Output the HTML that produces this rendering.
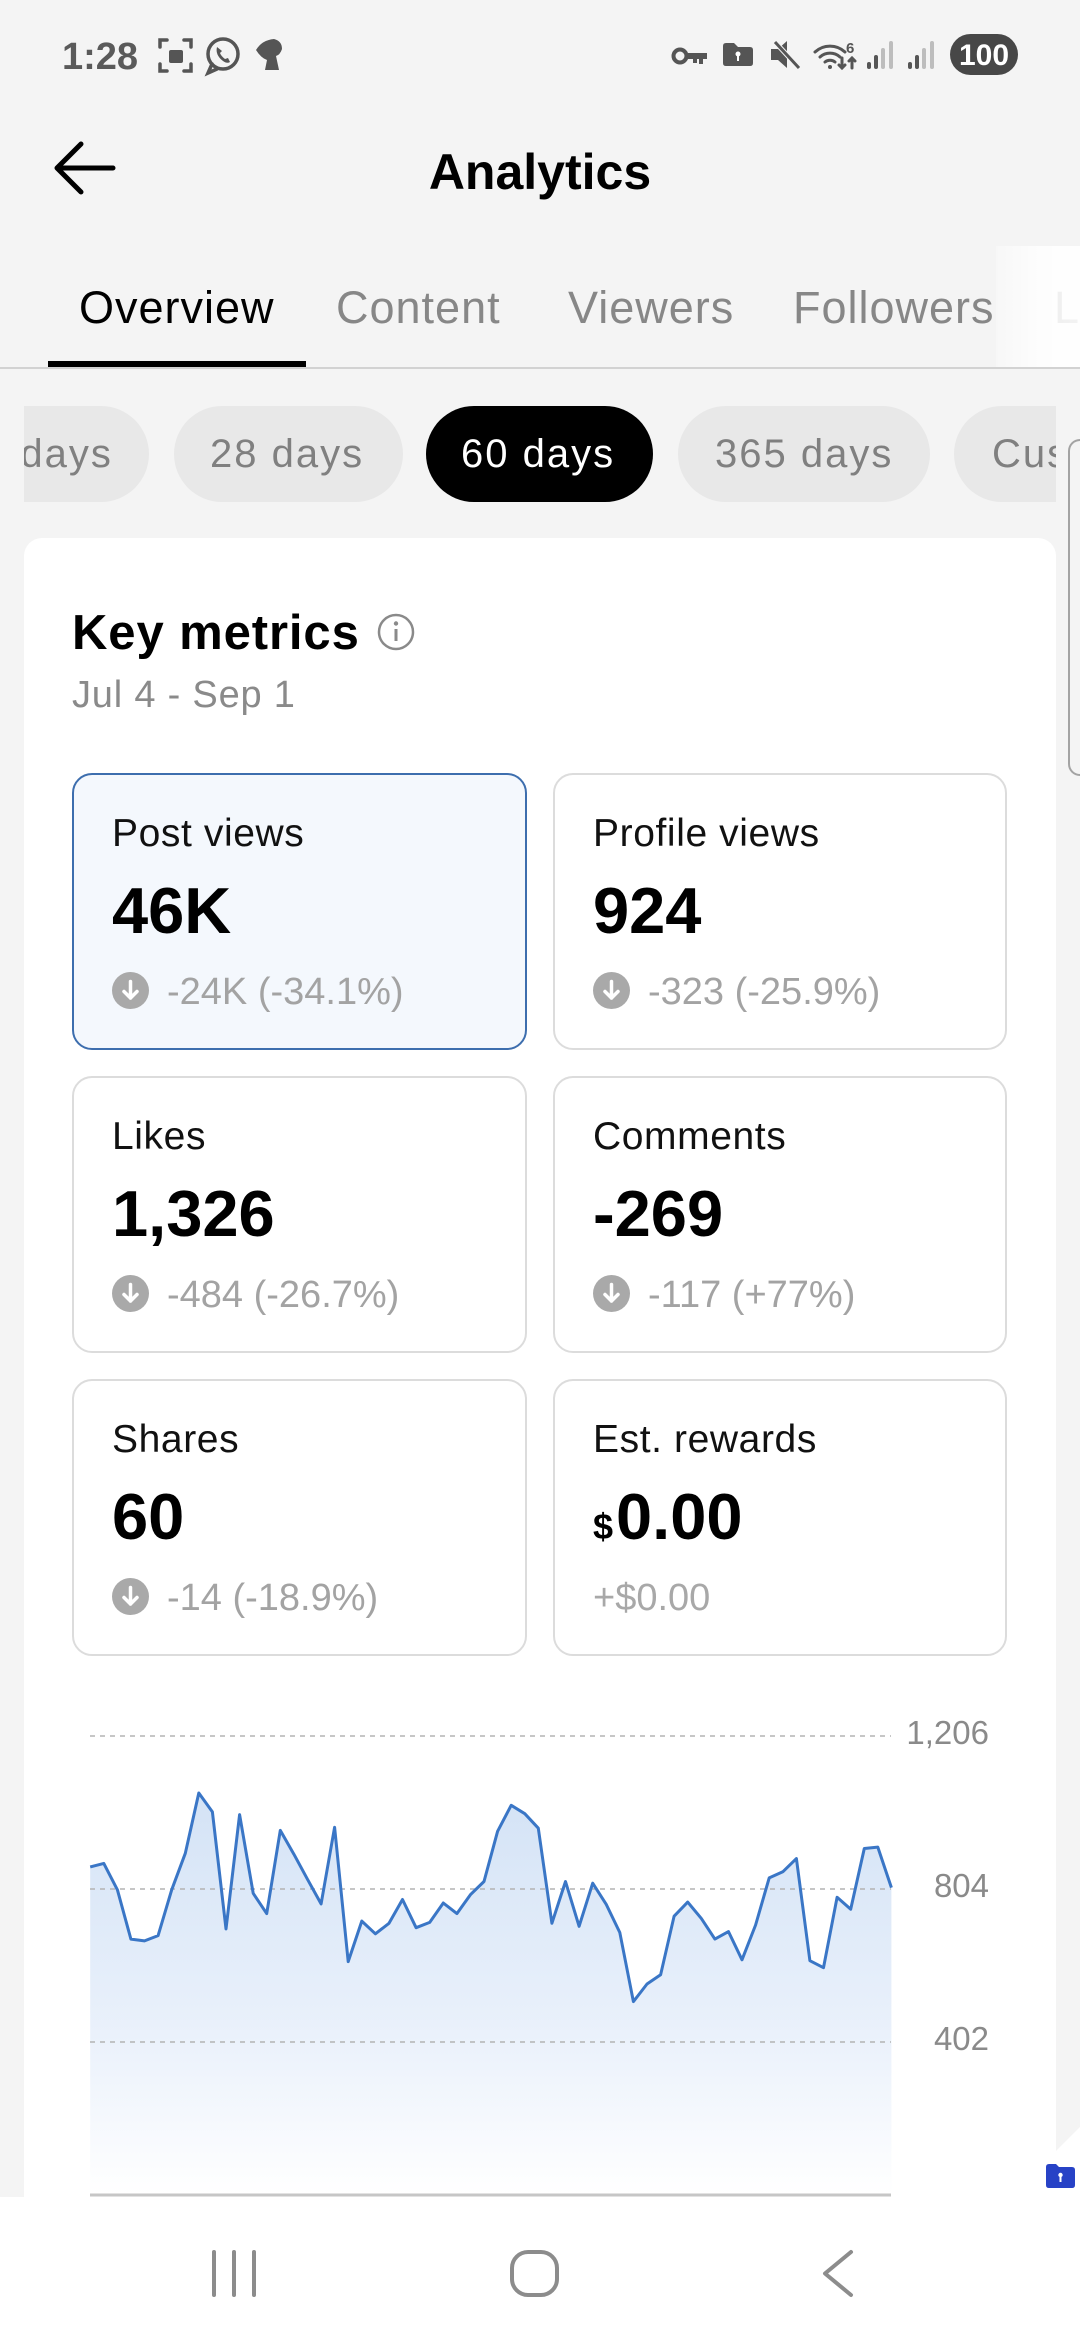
<!DOCTYPE html>
<html><head><meta charset="utf-8">
<style>
*{margin:0;padding:0;box-sizing:border-box}
html,body{width:1080px;height:2340px;overflow:hidden}
body{background:#f4f4f4;position:relative;font-family:"Liberation Sans",Arial,sans-serif;color:#000}
.a{position:absolute;white-space:nowrap;line-height:1}
.tab{position:absolute;top:285px;font-size:45px;line-height:1;letter-spacing:1px;color:#878787;white-space:nowrap}
.chips{position:absolute;left:24px;top:406px;width:1032px;height:96px;overflow:hidden}
.chip{position:absolute;top:0;height:96px;border-radius:48px;background:#e8e8e8;color:#808080;font-size:40px;line-height:96px;letter-spacing:2px;padding-left:36px;white-space:nowrap;overflow:hidden}
.card{position:absolute;width:455px;height:277px;border:2px solid #dcdcdc;border-radius:20px;background:#fff}
.card.sel{background:#f4f8fd;border-color:#3d6eae}
.lbl{position:absolute;left:38px;top:39px;font-size:39px;line-height:1;letter-spacing:0.6px;color:#111;white-space:nowrap}
.val{position:absolute;left:38px;top:103px;font-size:65px;line-height:1;font-weight:bold;color:#000;white-space:nowrap}
.chg{position:absolute;left:93px;top:198px;font-size:38px;line-height:1;color:#a3a3a3;white-space:nowrap}
.ic{position:absolute;left:38px;top:197px;width:37px;height:37px}
</style></head><body>

<!-- status bar -->
<div class="a" style="left:62px;top:38px;font-size:38px;font-weight:bold;color:#5a5a5a">1:28</div>
<svg class="a" style="left:0;top:0" width="1080" height="90" viewBox="0 0 1080 90">
  <g stroke="#555" stroke-width="3.5" fill="none" stroke-linecap="round">
    <path d="M160 47 v-7 h7 M184 40 h7 v7 M191 64 v7 h-7 M167 71 h-7 v-7"/>
    <circle cx="223" cy="54" r="15"/>
    <path d="M212 64 l-4 9 l9 -4"/>
  </g>
  <rect x="169" y="50" width="14" height="13" rx="2" fill="#555"/>
  <path d="M217 47 q-2 8 6 14 q4 3 7 1 l-2 -4 l-3 1 q-4 -3 -5 -6 l2 -2 z" fill="#555"/>
  <path d="M256 50 q6 -10 18 -11 q8 2 8 10 q-2 6 -6 7 l3 14 h-14 l2 -10 q-6 -2 -11 -10 z" fill="#555"/>
  <circle cx="680" cy="56" r="6.5" fill="none" stroke="#555" stroke-width="4"/>
  <path d="M686 53 h21 v6 h-4 v5 h-4 v-5 h-2 v4 h-4 v-4 h-7 z" fill="#555"/>
  <path d="M723 46 q0 -3 3 -3 h8 l4 4 h12 q3 0 3 3 v13 q0 3 -3 3 h-24 q-3 0 -3 -3 z" fill="#555"/>
  <circle cx="738" cy="54" r="2.5" fill="#fff"/><rect x="737" y="55" width="2" height="6" fill="#fff"/>
  <path d="M771 49 h7 l9 -8 v27 l-9 -8 h-7 z" fill="#555"/>
  <path d="M775 42 l24 26" stroke="#f4f4f4" stroke-width="5"/>
  <path d="M775 42 l24 26" stroke="#555" stroke-width="3"/>
  <g fill="none" stroke="#555" stroke-width="3" stroke-linecap="round">
    <path d="M815 52 a22 22 0 0 1 30 0"/>
    <path d="M820 57 a15 15 0 0 1 20 0"/>
    <path d="M825 62 a8 8 0 0 1 10 0"/>
    <path d="M842 58 v10 M839 65 l3 3 l3 -3 M852 68 v-10 M849 61 l3 -3 l3 3"/>
  </g>
  <circle cx="830" cy="67" r="2" fill="#555"/>
  <text x="846" y="53" font-family="Liberation Sans" font-size="15" font-weight="bold" fill="#555">6</text>
  <g>
    <rect x="867" y="62" width="4" height="7" rx="2" fill="#555"/><rect x="874" y="55" width="4" height="14" rx="2" fill="#555"/>
    <rect x="881" y="48" width="4" height="21" rx="2" fill="#bdbdbd"/><rect x="889" y="41" width="4" height="28" rx="2" fill="#bdbdbd"/>
    <rect x="908" y="62" width="4" height="7" rx="2" fill="#555"/><rect x="915" y="55" width="4" height="14" rx="2" fill="#555"/>
    <rect x="922" y="48" width="4" height="21" rx="2" fill="#bdbdbd"/><rect x="930" y="41" width="4" height="28" rx="2" fill="#bdbdbd"/>
  </g>
  <rect x="950" y="34" width="68" height="41" rx="20.5" fill="#474747"/>
  <text x="984" y="65" text-anchor="middle" font-family="Liberation Sans" font-size="30" font-weight="bold" fill="#fff">100</text>
</svg>

<!-- header -->
<svg class="a" style="left:0;top:120px" width="140" height="100" viewBox="0 120 140 100">
  <path d="M113 168 H57 M81 144 L57 168 L81 192" fill="none" stroke="#000" stroke-width="5" stroke-linecap="round" stroke-linejoin="round"/>
</svg>
<div class="a" style="left:0;width:1080px;text-align:center;top:147px;font-size:50px;font-weight:bold">Analytics</div>

<!-- tabs -->
<div class="tab" style="left:79px;color:#000">Overview</div>
<div class="tab" style="left:336px">Content</div>
<div class="tab" style="left:568px">Viewers</div>
<div class="tab" style="left:793px">Followers</div>
<div class="a" style="left:1040px;top:246px;width:40px;height:121px;overflow:hidden">
  <div class="tab" style="left:14px;top:39px">Live</div>
</div>
<div class="a" style="left:996px;top:246px;width:84px;height:121px;background:linear-gradient(to right,rgba(255,255,255,0.3),rgba(255,255,255,0.85) 55%,rgba(255,255,255,0.9))"></div>
<div class="a" style="left:48px;top:361px;width:258px;height:6px;background:#000"></div>
<div class="a" style="left:0;top:367px;width:1080px;height:2px;background:#d2d2d2"></div>

<!-- chips -->
<div class="chips">
  <div class="chip" style="left:-77px;width:202px;padding-left:36px">7 days</div>
  <div class="chip" style="left:150px;width:229px">28 days</div>
  <div class="chip" style="left:402px;width:227px;background:#000;color:#fff;padding-left:35px">60 days</div>
  <div class="chip" style="left:654px;width:252px;padding-left:37px">365 days</div>
  <div class="chip" style="left:930px;width:102px;padding-left:38px;border-radius:48px 0 0 48px">Custom</div>
</div>

<!-- right side panel edge -->
<div class="a" style="left:1068px;top:439px;width:12px;height:337px;border:2px solid #a3a3a3;border-right:0;border-radius:14px 0 0 14px;background:#f4f4f4"></div>

<!-- main card -->
<div class="a" style="left:24px;top:538px;width:1032px;height:1700px;background:#fff;border-radius:18px"></div>

<div class="a" style="left:72px;top:609px;font-size:49px;font-weight:bold;letter-spacing:0.9px">Key metrics</div>
<svg class="a" style="left:376px;top:612px" width="40" height="40" viewBox="0 0 40 40">
  <circle cx="20" cy="20" r="17" fill="none" stroke="#8a8a8a" stroke-width="2.5"/>
  <circle cx="20" cy="11.5" r="2.2" fill="#8a8a8a"/>
  <path d="M20 17 V29" stroke="#8a8a8a" stroke-width="3"/>
</svg>
<div class="a" style="left:72px;top:676px;font-size:38px;letter-spacing:0.8px;color:#8a8a8a">Jul 4 - Sep 1</div>

<!-- metric cards -->
<div class="card sel" style="left:72px;top:773px">
  <div class="lbl">Post views</div>
  <div class="val">46K</div>
  <svg class="ic" viewBox="0 0 37 37"><circle cx="18.5" cy="18.5" r="18.5" fill="#a9a9a9"/><path d="M18.5 9.5 V26 M12 19.5 L18.5 26 L25 19.5" fill="none" stroke="#fff" stroke-width="3.5" stroke-linecap="round" stroke-linejoin="round"/></svg>
  <div class="chg">-24K (-34.1%)</div>
</div>
<div class="card" style="left:553px;top:773px;width:454px">
  <div class="lbl">Profile views</div>
  <div class="val">924</div>
  <svg class="ic" viewBox="0 0 37 37"><circle cx="18.5" cy="18.5" r="18.5" fill="#a9a9a9"/><path d="M18.5 9.5 V26 M12 19.5 L18.5 26 L25 19.5" fill="none" stroke="#fff" stroke-width="3.5" stroke-linecap="round" stroke-linejoin="round"/></svg>
  <div class="chg">-323 (-25.9%)</div>
</div>
<div class="card" style="left:72px;top:1076px">
  <div class="lbl">Likes</div>
  <div class="val">1,326</div>
  <svg class="ic" viewBox="0 0 37 37"><circle cx="18.5" cy="18.5" r="18.5" fill="#a9a9a9"/><path d="M18.5 9.5 V26 M12 19.5 L18.5 26 L25 19.5" fill="none" stroke="#fff" stroke-width="3.5" stroke-linecap="round" stroke-linejoin="round"/></svg>
  <div class="chg">-484 (-26.7%)</div>
</div>
<div class="card" style="left:553px;top:1076px;width:454px">
  <div class="lbl">Comments</div>
  <div class="val">-269</div>
  <svg class="ic" viewBox="0 0 37 37"><circle cx="18.5" cy="18.5" r="18.5" fill="#a9a9a9"/><path d="M18.5 9.5 V26 M12 19.5 L18.5 26 L25 19.5" fill="none" stroke="#fff" stroke-width="3.5" stroke-linecap="round" stroke-linejoin="round"/></svg>
  <div class="chg">-117 (+77%)</div>
</div>
<div class="card" style="left:72px;top:1379px">
  <div class="lbl">Shares</div>
  <div class="val">60</div>
  <svg class="ic" viewBox="0 0 37 37"><circle cx="18.5" cy="18.5" r="18.5" fill="#a9a9a9"/><path d="M18.5 9.5 V26 M12 19.5 L18.5 26 L25 19.5" fill="none" stroke="#fff" stroke-width="3.5" stroke-linecap="round" stroke-linejoin="round"/></svg>
  <div class="chg">-14 (-18.9%)</div>
</div>
<div class="card" style="left:553px;top:1379px;width:454px">
  <div class="lbl">Est. rewards</div>
  <div class="val"><span style="font-size:36px">$</span><span style="margin-left:3px">0.00</span></div>
  <div class="chg" style="left:38px;color:#a8a8a8">+$0.00</div>
</div>

<!-- chart -->
<svg class="a" style="left:0;top:0" width="1080" height="2340" viewBox="0 0 1080 2340">
  <defs>
    <linearGradient id="g" gradientUnits="userSpaceOnUse" x1="0" y1="1795" x2="0" y2="2195">
      <stop offset="0" stop-color="#d4e3f6"/>
      <stop offset="0.6" stop-color="#eaf1fb"/>
      <stop offset="1" stop-color="#ffffff"/>
    </linearGradient>
  </defs>
  <polygon fill="url(#g)" points="90.2,1866.9 103.8,1863.4 117.4,1889.8 130.9,1939.1 144.5,1940.9 158.1,1935.6 171.7,1889.8 185.3,1853.3 198.8,1793.0 212.4,1811.9 226.0,1929.0 239.6,1814.6 253.2,1893.3 266.7,1913.6 280.3,1830.4 293.9,1854.2 307.5,1879.3 321.1,1903.9 334.6,1827.3 348.2,1961.6 361.8,1921.1 375.4,1933.8 389.0,1923.3 402.5,1899.5 416.1,1927.7 429.7,1922.4 443.3,1903.0 456.9,1913.6 470.4,1894.7 484.0,1881.5 497.6,1831.3 511.2,1805.3 524.8,1813.7 538.3,1828.2 551.9,1923.3 565.5,1881.5 579.1,1926.3 592.7,1883.2 606.2,1904.3 619.8,1932.5 633.4,2001.6 647.0,1984.0 660.6,1974.8 674.1,1916.2 687.7,1902.1 701.3,1918.4 714.9,1939.1 728.5,1931.6 742.0,1959.8 755.6,1925.0 769.2,1877.9 782.8,1871.8 796.4,1858.6 809.9,1960.7 823.5,1967.7 837.1,1897.3 850.7,1909.2 864.3,1848.5 877.8,1847.1 891.4,1887.6 891.4,2195 90.2,2195"/>
  <g stroke="#b3b3b3" stroke-width="1.6" stroke-dasharray="5 5">
    <line x1="90" y1="1736" x2="891" y2="1736"/>
    <line x1="90" y1="1889" x2="891" y2="1889"/>
    <line x1="90" y1="2042" x2="891" y2="2042"/>
  </g>
  <polyline fill="none" stroke="#3a76c6" stroke-width="3" stroke-linejoin="round" points="90.2,1866.9 103.8,1863.4 117.4,1889.8 130.9,1939.1 144.5,1940.9 158.1,1935.6 171.7,1889.8 185.3,1853.3 198.8,1793.0 212.4,1811.9 226.0,1929.0 239.6,1814.6 253.2,1893.3 266.7,1913.6 280.3,1830.4 293.9,1854.2 307.5,1879.3 321.1,1903.9 334.6,1827.3 348.2,1961.6 361.8,1921.1 375.4,1933.8 389.0,1923.3 402.5,1899.5 416.1,1927.7 429.7,1922.4 443.3,1903.0 456.9,1913.6 470.4,1894.7 484.0,1881.5 497.6,1831.3 511.2,1805.3 524.8,1813.7 538.3,1828.2 551.9,1923.3 565.5,1881.5 579.1,1926.3 592.7,1883.2 606.2,1904.3 619.8,1932.5 633.4,2001.6 647.0,1984.0 660.6,1974.8 674.1,1916.2 687.7,1902.1 701.3,1918.4 714.9,1939.1 728.5,1931.6 742.0,1959.8 755.6,1925.0 769.2,1877.9 782.8,1871.8 796.4,1858.6 809.9,1960.7 823.5,1967.7 837.1,1897.3 850.7,1909.2 864.3,1848.5 877.8,1847.1 891.4,1887.6"/>
  <line x1="90" y1="2195" x2="891" y2="2195" stroke="#c6c6c6" stroke-width="3"/>
  <g font-family="Liberation Sans" font-size="33" fill="#8a8a8a" text-anchor="end">
    <text x="989" y="1744">1,206</text>
    <text x="989" y="1897">804</text>
    <text x="989" y="2050">402</text>
  </g>
</svg>

<!-- nav bar -->
<div class="a" style="left:0;top:2197px;width:1080px;height:143px;background:#fff"></div>
<svg class="a" style="left:0;top:2100px" width="1080" height="240" viewBox="0 2100 1080 240">
  <polygon points="1080,2127 1080,2197 1010,2197" fill="#fff"/>
  <path d="M1046 2167 q0 -3 3 -3 h7 l3 3 h13 q3 0 3 3 v15 q0 3 -3 3 h-23 q-3 0 -3 -3 z" fill="#2742c6"/>
  <circle cx="1060.5" cy="2175" r="2.2" fill="#fff"/><rect x="1059.5" y="2176" width="2" height="6" fill="#fff"/>
  <g stroke="#8c8c8c" stroke-width="4" fill="none" stroke-linecap="round" stroke-linejoin="round">
    <path d="M214 2252 V2295 M234 2252 V2295 M254 2252 V2295"/>
    <rect x="512" y="2252" width="45" height="43" rx="16"/>
    <path d="M851 2252 L825 2273.5 L851 2295"/>
  </g>
</svg>

</body></html>
